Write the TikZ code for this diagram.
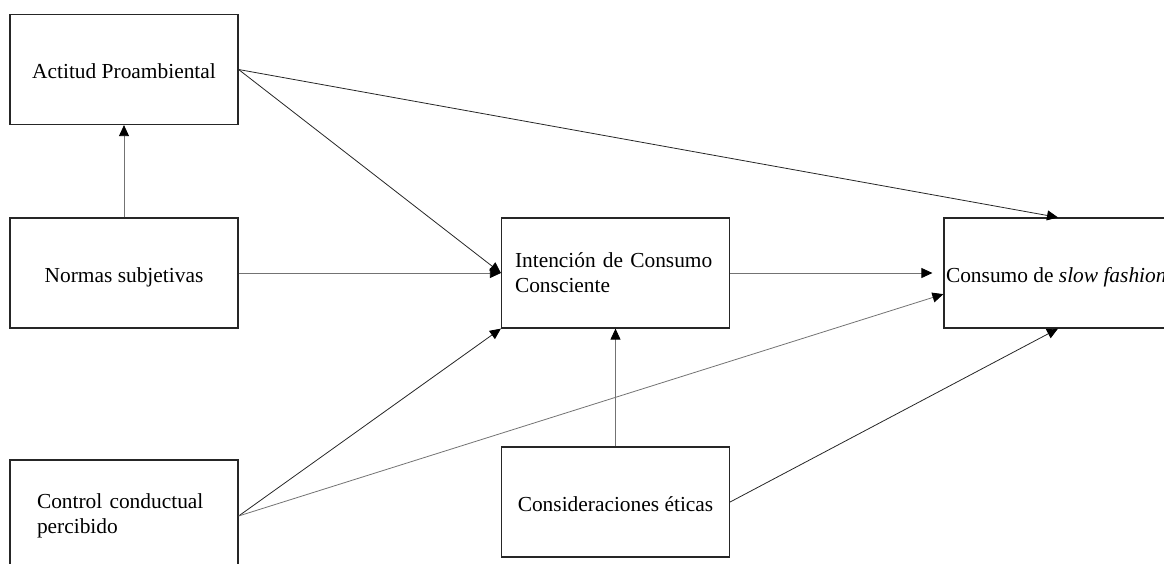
\documentclass[tikz,border=0pt]{standalone}
\usepackage{fontspec}
\setmainfont{Liberation Serif}
\usetikzlibrary{arrows.meta,calc}
\tikzset{
  box/.style={draw=black!85, line width=1.2pt, minimum width=228pt, minimum height=110pt,
    inner sep=0pt, font=\fontsize{21.4pt}{25pt}\selectfont},
  oneline/.style={text height=18pt, text depth=0pt},
  arr/.style={draw=black!55, line width=0.8pt, -{Triangle[length=11pt,width=10pt,color=black]}},
  darkarr/.style={arr, draw=black!85},
}
\begin{document}
\begin{tikzpicture}[x=1pt,y=-1pt]
\useasboundingbox (0,0) rectangle (1164,563);
\node[box,oneline] (act) at (124,69.5) {Actitud Proambiental};
\node[box,oneline] (nor) at (124,273) {Normas subjetivas\hspace{13pt}};
\node[box,minimum height=112pt,text width=174pt,align=left] (ctl) at (124,516) {Control conductual\\percibido};
\node[box,text width=201pt,align=left] (int) at (615.5,273) {Intención de Consumo\\Consciente};
\node[box,oneline] (cons) at (615.5,502) {Consideraciones éticas};
\node[box,oneline] (con) at (1058,273) {\hbox to 224pt{Consumo de \textit{slow fashion}\hss}};
\draw[arr] (nor.north) -- (act.south);
\draw[darkarr] (act.east) -- (int.west);
\draw[darkarr] (act.east) -- (con.north);
\draw[arr] (nor.east) -- (int.west);
\draw[arr] (int.east) -- ([xshift=-11pt]con.west);
\draw[darkarr] (ctl.east) -- (int.south west);
\draw[arr] (ctl.east) -- ($(con.west)!0.38!(con.south west)$);
\draw[arr] (cons.north) -- (int.south);
\draw[darkarr] (cons.east) -- (con.south);
\end{tikzpicture}
\end{document}
